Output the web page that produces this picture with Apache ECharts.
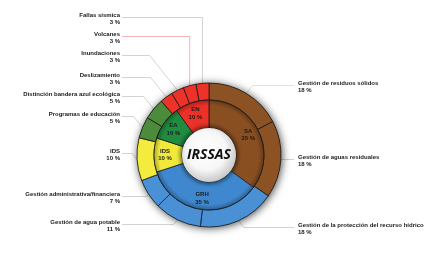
<!DOCTYPE html>
<html>
<head>
<meta charset="utf-8">
<script src="https://cdn.jsdelivr.net/npm/echarts@6/dist/echarts.min.js"></script>
<style>
  html, body { margin: 0; padding: 0; background: #fff; }
  #chart { width: 444px; height: 262px; }
</style>
</head>
<body>
<div id="chart"></div>
<script>
// inner ring: main areas
var innerNames = ['SA', 'GRH', 'IDS', 'EA', 'EN'];
var innerValues = [35, 35, 10, 10, 10];

// outer ring: sub-areas, clockwise from the top
var outerNames = [
  'Gestión de residuos sólidos',
  'Gestión de aguas residuales',
  'Gestión de la protección del recurso hídrico',
  'Gestión de agua potable',
  'Gestión administrativa/financiera',
  'IDS',
  'Programas de educación',
  'Distinción bandera azul ecológica',
  'Deslizamiento',
  'Inundaciones',
  'Volcanes',
  'Fallas sísmica'
];
var outerValues = [18, 18, 18, 11, 7, 10, 5, 5, 3, 3, 3, 3];

var innerColors = ['#8a4f21', '#3f88cf', '#f2ea3b', '#1f8c3f', '#ec3128'];
var outerColors = ['#8c5224', '#8c5224', '#4a90d4', '#4a90d4', '#4a90d4', '#f3eb3d',
  '#4c8a3c', '#4c8a3c', '#ed3229', '#ed3229', '#ed3229', '#ed3229'];
// y of the name line of each outer label
var labelY = [83, 157, 225, 222, 194, 151, 114, 94, 75, 53, 34, 15];
var lineColors = ['#e6d6c8', '#c8c8c8', '#c8c8c8', '#c8c8c8', '#c8c8c8', '#c8c8c8',
  '#c8c8c8', '#c8c8c8', '#c8c8c8', '#c8c8c8', '#f0a4a4', '#c8c8c8'];

var cx = 209, cy = 155;

function shade(hex, f) {
  var n = parseInt(hex.slice(1), 16);
  var r = Math.round(((n >> 16) & 255) * f);
  var g = Math.round(((n >> 8) & 255) * f);
  var b = Math.round((n & 255) * f);
  return 'rgb(' + r + ',' + g + ',' + b + ')';
}

function ringGradient(hex) {
  return {
    type: 'radial', x: cx, y: cy, r: 55, global: true,
    colorStops: [
      { offset: 0.45, color: shade(hex, 0.7) },
      { offset: 0.58, color: hex },
      { offset: 0.9, color: hex },
      { offset: 1, color: shade(hex, 0.72) }
    ]
  };
}

var innerData = innerNames.map(function (n, i) {
  return { name: n, value: innerValues[i], itemStyle: { color: ringGradient(innerColors[i]) } };
});
var outerData = outerNames.map(function (n, i) {
  return {
    name: n, value: outerValues[i],
    itemStyle: { color: outerColors[i] },
    labelLine: { lineStyle: { color: lineColors[i] } }
  };
});

var chart = echarts.init(document.getElementById('chart'));
chart.setOption({
  animation: false,
  series: [
    {
      // dark shadow behind the outer ring
      type: 'pie',
      silent: true,
      center: [cx, cy],
      radius: [54, 72],
      label: { show: false },
      labelLine: { show: false },
      itemStyle: { color: '#333', shadowBlur: 9, shadowColor: 'rgba(0,0,0,0.75)', shadowOffsetX: 1, shadowOffsetY: 1 },
      data: [1]
    },
    {
      type: 'pie',
      center: [cx, cy],
      radius: [55, 72],
      startAngle: 90,
      clockwise: true,
      avoidLabelOverlap: false,
      itemStyle: { borderColor: '#1a1a1a', borderWidth: 0.8 },
      label: {
        show: true,
        formatter: '{b}\n{c} %',
        fontFamily: 'Liberation Sans',
        fontWeight: 'bold',
        fontSize: 6,
        lineHeight: 7.5,
        color: '#1a1a1a'
      },
      labelLine: { show: true, length: 6, length2: 6, lineStyle: { width: 0.8 } },
      labelLayout: function (params) {
        var i = params.dataIndex;
        var start = params.labelLinePoints ? params.labelLinePoints[0] : [cx, cy];
        var isLeft = start[0] < cx;
        var lineY = labelY[i] + 2.5;
        var endX = isLeft ? 122 : 294;
        var elbowX = start[0];
        if (Math.abs(start[0] - cx) > 25) {
          var dy = Math.abs(start[1] - lineY) * 0.8;
          elbowX = isLeft ? start[0] - dy : start[0] + dy;
        }
        return {
          x: isLeft ? 120 : 298,
          y: labelY[i] - 3.5,
          align: isLeft ? 'right' : 'left',
          verticalAlign: 'top',
          labelLinePoints: [start, [elbowX, lineY], [endX, lineY]]
        };
      },
      data: outerData
    },
    {
      type: 'pie',
      center: [cx, cy],
      radius: [27, 55],
      startAngle: 90,
      clockwise: true,
      itemStyle: { borderColor: '#1a1a1a', borderWidth: 0.8 },
      label: {
        show: true,
        position: 'inside',
        formatter: '{b}\n{c} %',
        fontFamily: 'Liberation Sans',
        fontWeight: 'bold',
        fontSize: 6,
        lineHeight: 7.5,
        color: '#1a1a1a'
      },
      labelLine: { show: false },
      data: innerData
    }
  ],
  graphic: [
    {
      type: 'circle',
      z: 10,
      shape: { cx: cx, cy: cy, r: 27 },
      style: {
        fill: {
          type: 'radial', x: 0.45, y: 0.42, r: 0.6,
          colorStops: [
            { offset: 0, color: '#ffffff' },
            { offset: 0.6, color: '#f7f7f7' },
            { offset: 1, color: '#c4c4c4' }
          ]
        },
        shadowBlur: 6,
        shadowColor: 'rgba(0,0,0,0.6)'
      }
    },
    {
      type: 'text',
      z: 11,
      x: cx,
      y: cy,
      style: {
        text: 'IRSSAS',
        font: 'italic bold 14px "Open Sans"',
        fill: '#111',
        align: 'center',
        verticalAlign: 'middle'
      }
    }
  ]
});
window.addEventListener('resize', function () {
  chart.resize();
});
</script>
</body>
</html>
